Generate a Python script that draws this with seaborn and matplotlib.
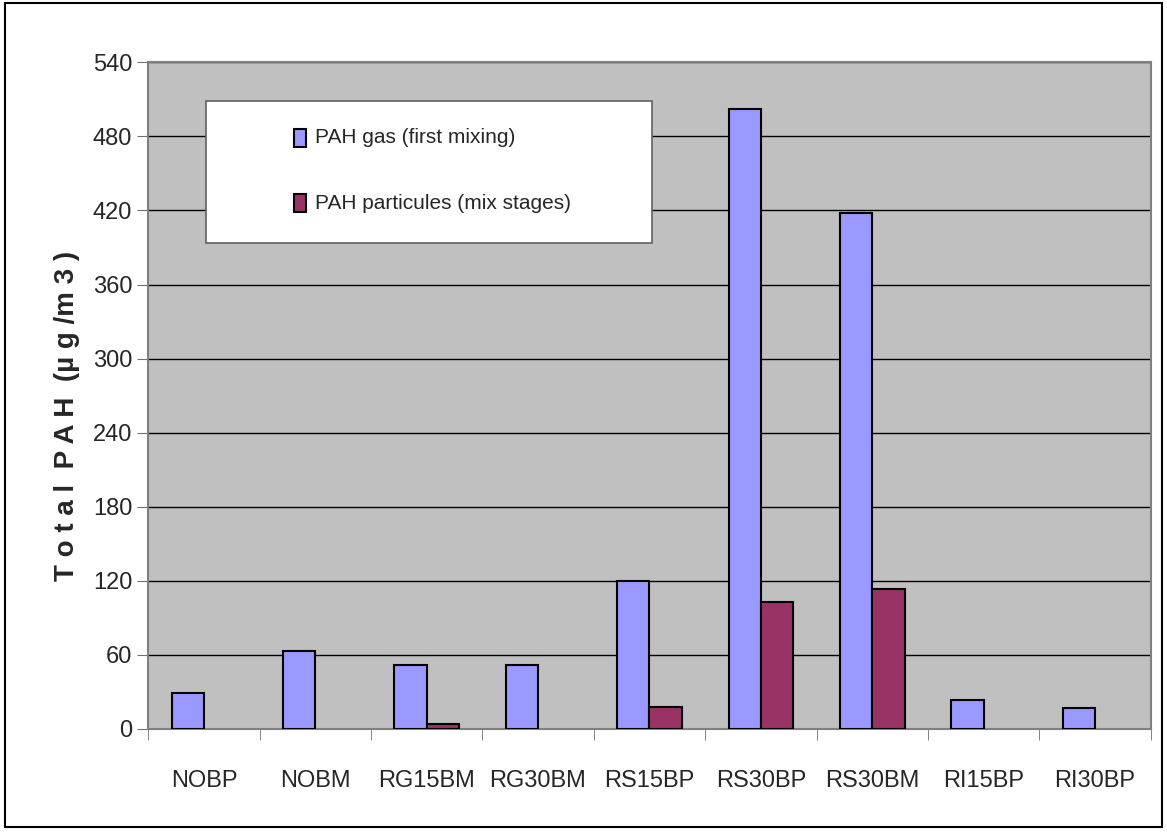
import pandas as pd
import matplotlib.pyplot as plt
import seaborn as sns
import numpy as np
from matplotlib.patches import Rectangle

# Chart data
samples = ['NOBP', 'NOBM', 'RG15BM', 'RG30BM', 'RS15BP', 'RS30BP', 'RS30BM', 'RI15BP', 'RI30BP']
pah_gas = [29, 63, 52, 52, 120, 502, 418, 23, 17]
pah_particules = [0, 0, 4, 0, 18, 103, 113, 0, 0]
series_names = ['PAH gas (first mixing)', 'PAH particules (mix stages)']
series_colors = ['#9999FF', '#993366']
y_ticks = list(range(0, 541, 60))

df = pd.DataFrame({
    'sample': samples * 2,
    'value': pah_gas + pah_particules,
    'series': [series_names[0]] * len(samples) + [series_names[1]] * len(samples),
})

sns.set_style('white')
plt.rcParams['font.family'] = ['Liberation Sans Narrow', 'Liberation Sans', 'DejaVu Sans']

fig = plt.figure(figsize=(11.67, 8.32), dpi=100)
ax = fig.add_axes([0.127, 0.124, 0.859, 0.801])
ax.set_facecolor('#C0C0C0')

palette = dict(zip(series_names, series_colors))
sns.barplot(data=df, x='sample', y='value', hue='series', palette=palette,
            width=0.58, edgecolor='black', linewidth=1.5, ax=ax, zorder=3,
            saturation=1, legend=False)

# hide zero-height bars like the original
for p in ax.patches:
    if p.get_height() == 0:
        p.set_visible(False)

ax.set_ylim(0, 540)
ax.set_xlim(-0.5, len(samples) - 0.5)
ax.set_yticks(y_ticks)
ax.yaxis.grid(True, color='black', linewidth=1)
ax.set_axisbelow(True)
ax.tick_params(axis='y', labelsize=17, length=8, color='#707070', direction='out', left=True)

# Excel-style x ticks between categories
ax.set_xticks(np.arange(len(samples)))
ax.set_xticklabels(samples, fontsize=17)
ax.set_xticks(np.arange(-0.5, len(samples)), minor=True)
ax.tick_params(axis='x', which='major', length=0, pad=30)
ax.tick_params(axis='x', which='minor', length=8, color='#707070', direction='out', bottom=True)

for s in ax.spines.values():
    s.set_color('#808080')
    s.set_linewidth(1.5)

ax.set_xlabel('')
ax.set_ylabel('T o t a l  P A H  (µ g /m 3 )', fontsize=20, fontweight='bold')
ax.yaxis.set_label_coords(-0.068, 0.47)

# legend box drawn like the Excel one
ax.add_patch(Rectangle((0.058, 0.729), 0.445, 0.213, transform=ax.transAxes,
                       facecolor='white', edgecolor='#606060', linewidth=1.2, zorder=5))
leg_y = [0.887, 0.789]
for name, color, yy in zip(series_names, series_colors, leg_y):
    ax.add_patch(Rectangle((0.1455, yy - 0.0135), 0.012, 0.027, transform=ax.transAxes,
                           facecolor=color, edgecolor='black', linewidth=1.5, zorder=6))
    ax.text(0.166, yy, name, transform=ax.transAxes, fontsize=15, va='center',
            ha='left', zorder=6)

# outer border around the whole figure
fig.patches.append(Rectangle((0.004, 0.006), 0.992, 0.99, transform=fig.transFigure,
                             fill=False, edgecolor='black', linewidth=1.5))

fig.savefig('out.png', dpi=100)
